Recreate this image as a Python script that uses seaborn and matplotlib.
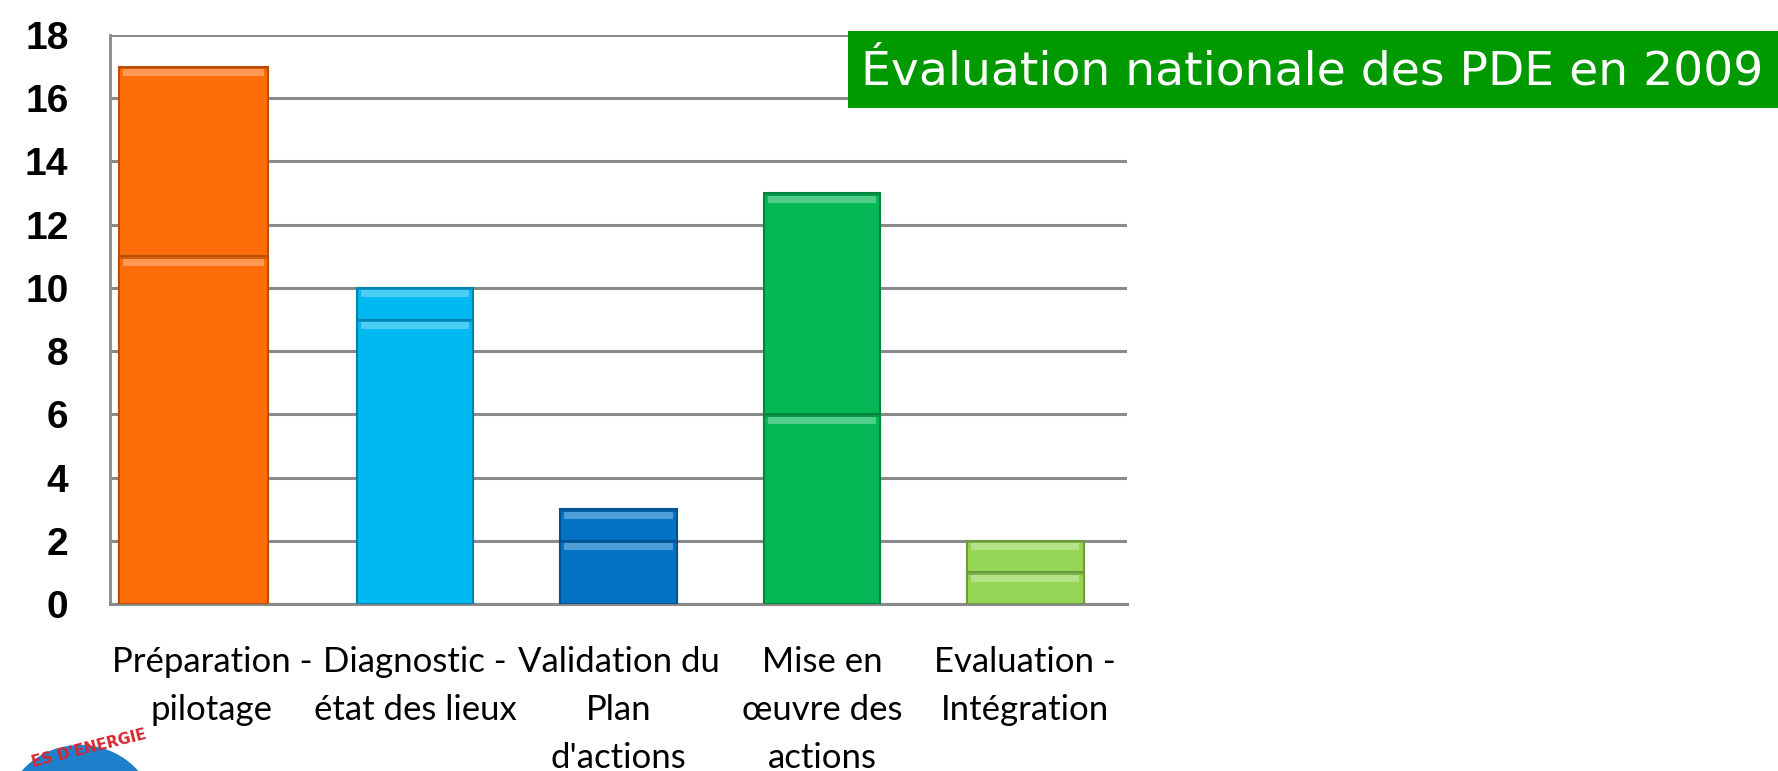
import numpy as np
import pandas as pd
import matplotlib.pyplot as plt
import matplotlib.colors as mcolors
from matplotlib.patches import Rectangle, Ellipse
import seaborn as sns

# Data (two stacked segments per phase)
categories = ["Préparation -\npilotage", "Diagnostic -\nétat des lieux",
              "Validation du\nPlan\nd'actions", "Mise en\nœuvre des\nactions",
              "Evaluation -\nIntégration"]
lower = [11, 9, 2, 6, 1]
upper = [6, 1, 1, 7, 1]
colors = ["#FF6D0A", "#00B8F2", "#0373C6", "#05B856", "#96D657"]
y_ticks = [0, 2, 4, 6, 8, 10, 12, 14, 16, 18]
title = "Évaluation nationale des PDE en 2009"

sns.set_theme(style="white")
plt.rcParams['font.family'] = ['Lato', 'DejaVu Sans']

fig = plt.figure(figsize=(17.78, 7.71), dpi=100)
ax = fig.add_axes([0.0619, 0.2166, 0.572, 0.738])

totals = [a + b for a, b in zip(lower, upper)]
df = pd.DataFrame({"cat": categories, "lower": lower, "total": totals})

# totals first, lower segment on top of it
sns.barplot(data=df, x="cat", y="total", hue="cat", palette=colors,
            legend=False, width=0.572, ax=ax, saturation=1, zorder=3)
sns.barplot(data=df, x="cat", y="lower", hue="cat", palette=colors,
            legend=False, width=0.572, ax=ax, saturation=1, zorder=3)

# first bar is drawn wider in the original
for p in ax.patches:
    cx = p.get_x() + p.get_width() / 2
    if round(cx) == 0:
        p.set_x(-0.456)
        p.set_width(0.734)

# bevel look: darker edge and a light stripe at the top of each segment
for p in list(ax.patches):
    fc = mcolors.to_rgb(p.get_facecolor())
    dark = tuple(c * 0.72 for c in fc)
    light = tuple(min(1, c + (1 - c) * 0.3) for c in fc)
    p.set_edgecolor(dark)
    p.set_linewidth(1.5)
    top = p.get_y() + p.get_height()
    x0, w = p.get_x(), p.get_width()
    ax.add_patch(Rectangle((x0 + 0.02, top - 0.3), w - 0.04, 0.22,
                           facecolor=light, edgecolor="none", zorder=4))
    ax.add_patch(Rectangle((x0, top - 0.08), w, 0.08,
                           facecolor=dark, edgecolor="none", alpha=0.6, zorder=4))

ax.set_xlim(-0.5, 4.5)
ax.set_ylim(0, 18)
ax.set_yticks(y_ticks)
ax.yaxis.grid(True, color="#8A8A8A", linewidth=2.2, zorder=0)
ax.set_axisbelow(True)
for s in ["top", "right"]:
    ax.spines[s].set_visible(False)
ax.spines["left"].set_color("#8A8A8A")
ax.spines["left"].set_linewidth(2)
ax.spines["bottom"].set_color("#8A8A8A")
ax.spines["bottom"].set_linewidth(2.2)

ax.set_xlabel("")
ax.set_ylabel("")
ax.tick_params(axis="y", length=0, pad=30, labelsize=28)
for t in ax.get_yticklabels():
    t.set_fontweight("bold")
    t.set_family(["Liberation Sans", "DejaVu Sans"])
    t.set_color("black")
ax.tick_params(axis="x", length=0, pad=30, labelsize=25)
for t in ax.get_xticklabels():
    t.set_linespacing(1.62)
    t.set_verticalalignment("top")
    t.set_color("black")

# title box
fig.patches.append(Rectangle((848 / 1778, 1 - 108 / 771), 1 - 848 / 1778, 77 / 771,
                             transform=fig.transFigure, facecolor="#009900",
                             edgecolor="none", zorder=5))
fig.text(1312 / 1778, 1 - 72 / 771, title, color="white", fontsize=34,
         ha="center", va="center", family=["DejaVu Sans"], zorder=6)

# partial logo at bottom left
fig.patches.append(Ellipse((80 / 1778, 1 - 815 / 771), 150 / 1778, 140 / 771,
                           transform=fig.transFigure, facecolor="#1E7FCB",
                           edgecolor="none", zorder=5))
fig.text(0.05, 1 - 748 / 771, "ES D'ENERGIE", color="#D8262E", fontsize=11,
         fontweight="bold", rotation=14, ha="center", va="center", zorder=6,
         family=["Liberation Sans Narrow", "DejaVu Sans"])

plt.savefig("out.png", dpi=100)
plt.close()
